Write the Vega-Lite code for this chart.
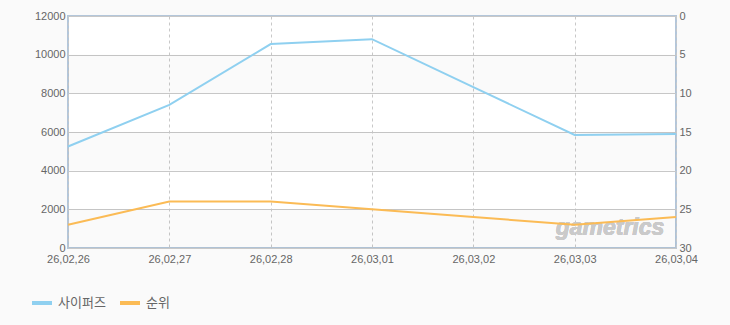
{
  "$schema": "https://vega.github.io/schema/vega-lite/v6.json",
  "width": 608,
  "height": 232,
  "autosize": {"type": "none"},
  "padding": {"left": 68, "top": 16, "right": 54, "bottom": 77},
  "background": "#fafafa",
  "config": {
    "view": {"fill": "#ffffff", "stroke": "#b3c6da", "strokeWidth": 2},
    "font": "Liberation Sans",
    "axis": {"labelFont": "Liberation Sans", "labelFontSize": 11, "labelColor": "#666666", "domain": false, "ticks": false, "title": null, "labelOverlap": false},
    "axisQuantitative": {"labelOverlap": false}
  },
  "datasets": {
    "main": [
      {"date": "26,02,26", "visits": 5250, "rank": 27},
      {"date": "26,02,27", "visits": 7400, "rank": 24},
      {"date": "26,02,28", "visits": 10550, "rank": 24},
      {"date": "26,03,01", "visits": 10800, "rank": 25},
      {"date": "26,03,02", "visits": 8320, "rank": 26},
      {"date": "26,03,03", "visits": 5850, "rank": 27},
      {"date": "26,03,04", "visits": 5900, "rank": 26}
    ],
    "bands": [
      {"lo": 0, "hi": 2000},
      {"lo": 4000, "hi": 6000},
      {"lo": 8000, "hi": 10000}
    ]
  },
  "layer": [
    {
      "layer": [
        {
          "data": {"name": "bands"},
          "mark": {"type": "rect", "color": "#000000", "opacity": 0.02},
          "encoding": {
            "y": {"field": "lo", "type": "quantitative", "scale": {"domain": [0, 12000]},
                  "axis": {"orient": "left", "values": [0, 2000, 4000, 6000, 8000, 10000, 12000], "format": "d", "labelOverlap": false, "grid": true, "gridColor": "#c8c8c8", "labelPadding": 3}},
            "y2": {"field": "hi"}
          }
        },
        {
          "data": {"name": "main"},
          "mark": {"type": "line", "strokeWidth": 2},
          "encoding": {
            "x": {"field": "date", "type": "ordinal", "scale": {"type": "point", "padding": 0},
                  "axis": {"labelAngle": 0, "grid": true, "gridDash": [3, 3], "gridColor": "#c8c8c8", "labelPadding": 5, "labelOverlap": false, "labelBound": false}},
            "y": {"field": "visits", "type": "quantitative", "scale": {"domain": [0, 12000]},
                  "axis": {"orient": "left", "values": [0, 2000, 4000, 6000, 8000, 10000, 12000], "format": "d", "labelOverlap": false, "grid": true, "gridColor": "#c8c8c8", "labelPadding": 3}},
            "color": {"datum": "사이퍼즈", "type": "nominal",
                      "scale": {"domain": ["사이퍼즈", "순위"], "range": ["#8fd0f0", "#fbbb55"]},
                      "legend": {"orient": "none", "legendX": -38, "legendY": 275, "direction": "horizontal", "title": null,
                                 "symbolType": "stroke", "symbolStrokeWidth": 4, "symbolSize": 400,
                                 "labelFont": "Noto Sans CJK KR", "labelFontSize": 13, "labelColor": "#666666", "columnPadding": 6}}
          }
        }
      ]
    },
    {
      "data": {"name": "main"},
      "layer": [
        {
          "mark": {"type": "text", "text": "gametrics", "font": "Liberation Sans", "fontStyle": "italic", "fontWeight": "bold", "fontSize": 23, "color": "#cacaca", "align": "left", "baseline": "middle", "dx": -19},
          "encoding": {
            "x": {"datum": "26,03,03", "type": "ordinal",
                  "axis": {"labelAngle": 0, "grid": true, "gridDash": [3, 3], "gridColor": "#c8c8c8", "labelPadding": 5, "labelOverlap": false, "labelBound": false}},
            "y": {"datum": 27.4, "type": "quantitative",
                  "axis": {"orient": "right", "values": [0, 5, 10, 15, 20, 25, 30], "labelOverlap": false, "grid": false, "labelPadding": 3}}
          }
        },
        {
          "mark": {"type": "line", "strokeWidth": 2},
          "encoding": {
            "x": {"field": "date", "type": "ordinal",
                  "axis": {"labelAngle": 0, "grid": true, "gridDash": [3, 3], "gridColor": "#c8c8c8", "labelPadding": 5, "labelOverlap": false, "labelBound": false}},
            "y": {"field": "rank", "type": "quantitative", "scale": {"domain": [0, 30], "reverse": true},
                  "axis": {"orient": "right", "values": [0, 5, 10, 15, 20, 25, 30], "labelOverlap": false, "grid": false, "labelPadding": 3}},
            "color": {"datum": "순위", "type": "nominal"}
          }
        }
      ]
    }
  ],
  "resolve": {"scale": {"y": "independent"}, "axis": {"y": "independent"}}
}
